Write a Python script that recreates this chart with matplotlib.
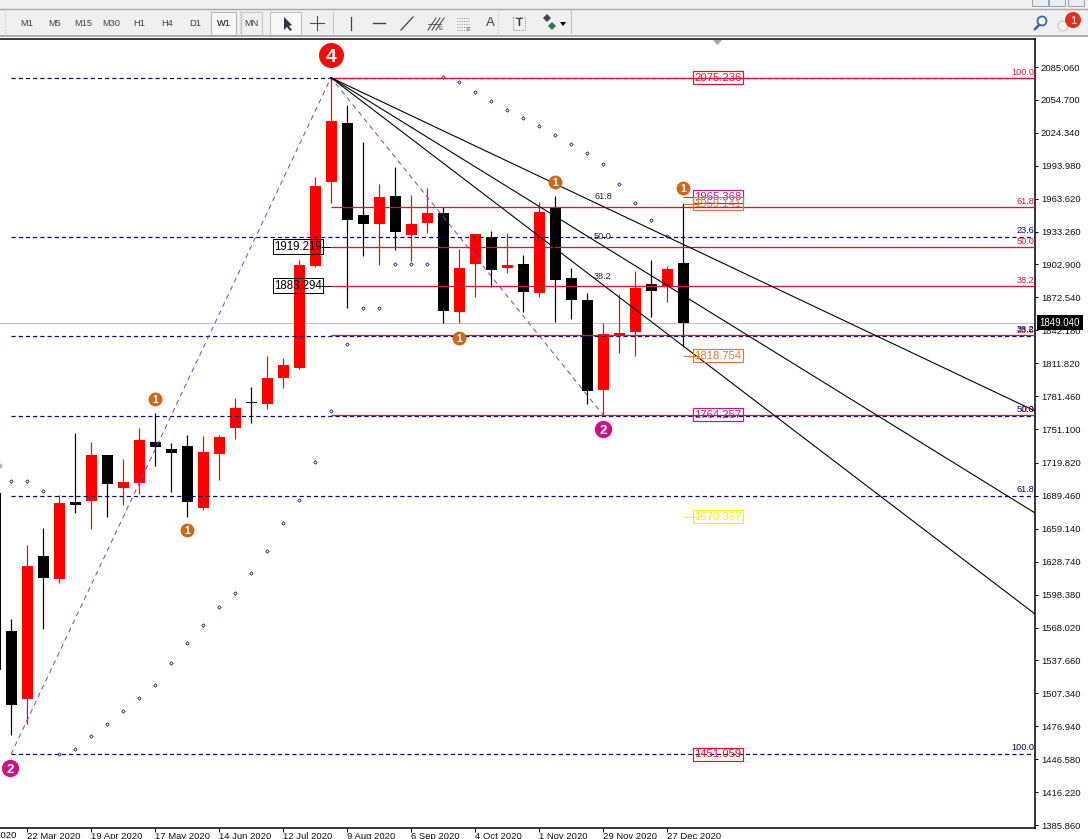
import matplotlib
matplotlib.use("Agg")
import matplotlib.pyplot as plt
from matplotlib.patches import Rectangle, Circle, Polygon

plt.rcParams['font.family'] = ['Liberation Sans', 'DejaVu Sans']

# ---- weekly candles, first bar index 0 ----
opens = [1692.1, 1564.8, 1502.1, 1634.0, 1612.8, 1683.8, 1684.7, 1727.2, 1696.7, 1701.3, 1739.2,
         1732.7, 1735.5, 1678.3, 1728.1, 1752.1, 1776.1, 1774.2, 1798.2, 1807.4, 1901.5, 1979.0,
         2033.4, 1948.5, 1940.2, 1966.1, 1930.1, 1941.2, 1950.4, 1859.1, 1903.3, 1928.3, 1899.7,
         1903.3, 1876.6, 1955.0, 1890.4, 1870.1, 1787.1, 1836.9, 1840.6, 1884.9, 1883.0, 1904.3]
closes = [1528.9, 1496.6, 1624.8, 1613.7, 1682.9, 1681.0, 1727.2, 1700.4, 1702.3, 1741.0, 1734.5,
          1729.0, 1683.8, 1729.9, 1743.8, 1770.5, 1775.1, 1798.2, 1810.2, 1902.4, 1975.3, 2035.2,
          1943.9, 1940.2, 1965.1, 1932.9, 1940.2, 1950.4, 1860.0, 1899.7, 1931.0, 1897.8, 1902.4,
          1877.5, 1951.3, 1888.6, 1870.1, 1786.2, 1838.8, 1839.7, 1881.2, 1878.4, 1898.7, 1848.9]
highs = [1692.1, 1575.9, 1644.2, 1659.8, 1690.3, 1747.5, 1739.2, 1727.2, 1723.5, 1752.1, 1765.9,
         1738.2, 1745.6, 1744.7, 1745.6, 1779.7, 1789.9, 1818.5, 1816.6, 1907.0, 1983.6, 2075.8,
         2050.0, 2015.9, 1977.1, 1992.8, 1967.0, 1973.4, 1955.9, 1917.2, 1931.0, 1933.8, 1931.9,
         1911.6, 1960.5, 1966.1, 1899.7, 1876.6, 1848.9, 1875.7, 1896.9, 1907.0, 1901.5, 1959.6]
lows = [1510.4, 1468.9, 1479.0, 1566.7, 1609.1, 1673.7, 1658.9, 1670.0, 1681.0, 1691.2, 1717.0,
        1693.0, 1670.0, 1676.4, 1704.1, 1741.9, 1756.7, 1769.6, 1789.0, 1806.5, 1900.6, 1959.6,
        1862.8, 1910.7, 1902.4, 1916.3, 1906.1, 1931.9, 1848.9, 1848.9, 1872.9, 1882.1, 1895.0,
        1859.1, 1872.9, 1849.8, 1852.6, 1774.2, 1764.1, 1821.3, 1818.5, 1854.5, 1868.3, 1826.8]

# ---- axis labels ----
date_idx = [2, 6, 10, 14, 18, 22, 26, 30, 34, 38, 42]
date_labels = ['22 Mar 2020', '19 Apr 2020', '17 May 2020', '14 Jun 2020', '12 Jul 2020', '9 Aug 2020',
               '6 Sep 2020', '4 Oct 2020', '1 Nov 2020', '29 Nov 2020', '27 Dec 2020']
cut_date_idx = -2
cut_date_label = '23 Feb 2020'
price_ticks = [2085.06, 2054.70, 2024.34, 1993.98, 1963.62, 1933.26, 1902.90, 1872.54, 1842.18, 1811.82,
               1781.46, 1751.10, 1719.82, 1689.46, 1659.14, 1628.74, 1598.38, 1568.02, 1537.66, 1507.34,
               1476.94, 1446.58, 1416.22, 1385.86]
last_price = 1849.04

# ---- fibonacci levels ----
swing_idx = 21          # bar of the 2075 high
start_idx = 1           # bar of the 1451 low
low_idx = 38            # bar of the 1764 low
top_price = 2075.236
bottom_price = 1451.059
low_price = 1764.257
red_levels = [2075.236, 1956.2, 1919.219, 1883.294, 1837.6, 1764.257]
red_names = ['100.0', '61.8', '50.0', '38.2', '23.6', '0.0']
blue_levels = [2075.236, 1927.9, 1836.8, 1763.1, 1689.5, 1451.059]
blue_names = ['', '23.6', '38.2', '50.0', '61.8', '100.0']

# ---- fan lines: price where each leaves the chart on the right ----
fan_names = ['61.8', '50.0', '38.2']
fan_end_prices = [1767.8, 1673.7, 1580.5]
fan_label_idx = 38.0
fan_label_prices = [1966.0, 1929.0, 1892.0]

# ---- dotted series ----
dots_idx = [1, 2, 3, 4, 5, 6, 7, 8, 9, 10, 11, 12, 13, 14, 15, 16, 17, 18, 19, 20, 21, 22, 23, 24, 25, 26, 27,
            28, 29, 30, 31, 32, 33, 34, 35, 36, 37, 38, 39, 40, 41, 42]
dots_price = [1703.2, 1703.2, 1693.9, 1451.4, 1456.0, 1468.0, 1479.0, 1491.0, 1503.0, 1515.0, 1535.3, 1553.7,
              1570.4, 1587.0, 1599.9, 1618.3, 1638.6, 1664.4, 1685.6, 1720.7, 1767.8, 1829.6, 1862.8, 1862.8,
              1903.3, 1903.3, 1903.3, 2075.8, 2071.2, 2062.0, 2053.7, 2045.4, 2038.0, 2030.6, 2022.3, 2014.0,
              2005.7, 1995.6, 1977.1, 1959.6, 1943.9, 1929.2]

# ---- price tags ----
tag_values = [2075.236, 1965.368, 1959.141, 1818.754, 1764.257, 1670.367, 1451.059]
tag_colors = ['#E0102F', '#C71585', '#E07830', '#E07830', '#C71585', '#FFF000', '#E0102F']
tag_linked = [False, True, True, True, False, True, False]
left_tags = [1919.219, 1883.294]

# ---- elliott wave marks ----
wave_idx = [21, 38, 0.94, 10, 12, 29, 35, 43]
wave_price = [2096.1, 1751.1, 1438.4, 1778.8, 1658.0, 1835.0, 1979.0, 1973.4]
wave_text = ['4', '2', '2', '1', '1', '1', '1', '1']
wave_color = ['#F20D0D', '#C71585', '#C71585', '#C8691E', '#C8691E', '#C8691E', '#C8691E', '#C8691E']
wave_size = [17, 11.5, 11.5, 9, 9, 9, 9, 9]

# ---- toolbar text ----
tf_names = ['M1', 'M5', 'M15', 'M30', 'H1', 'H4', 'D1', 'W1', 'MN']
tf_centers = [27, 55, 83, 111, 139, 167, 195, 224, 251]

PX = 0.72
RED = '#FF0000'
LINE_RED = '#E01030'
NAVY = '#000070'

fig = plt.figure(figsize=(10.88, 8.39), dpi=100, facecolor='white')
ax = fig.add_axes([0, 1 - 828 / 839, 1035 / 1088, (828 - 39) / 839])
ax.set_xlim(0.3125, 65.0)
ax.set_ylim(1383.1, 2110.9)
ax.spines['left'].set_visible(False)
for s in ('top', 'right', 'bottom'):
    ax.spines[s].set_linewidth(1.1)

# current price
ax.axhline(last_price, color='#C0C0C0', lw=PX, zorder=1)

# candles
bar_w = 11 / 16
for i, (o, c, h, l) in enumerate(zip(opens, closes, highs, lows)):
    col = RED if c > o else 'black'
    ax.vlines(i, l, h, color=col, lw=PX * 1.2, zorder=2)
    lo = min(o, c)
    ax.bar(i, abs(c - o), bottom=lo, width=bar_w, color=col, lw=0, zorder=3)

# dashed fibonacci
for v in blue_levels:
    ax.hlines(v, start_idx, 65, color=NAVY, lw=PX * 1.2, ls=(0, (3.5, 2.5)), zorder=4)
# red fibonacci
for v in red_levels:
    ax.hlines(v, swing_idx, 65, color=LINE_RED, lw=PX * 1.3, zorder=5)

# zigzag
ax.plot([start_idx, swing_idx, low_idx], [bottom_price, top_price, low_price], color='#8A3FC0',
        lw=PX, ls=(0, (5, 4)), zorder=4)

# fan
for end in fan_end_prices:
    ax.plot([swing_idx, 65], [top_price, end], color='black', lw=PX * 1.1, zorder=6)
for n, p in zip(fan_names, fan_label_prices):
    ax.text(fan_label_idx, p, n, fontsize=6.6, color='#202020', ha='center', va='center', zorder=7)

# dots
ax.scatter(dots_idx, dots_price, s=3, marker='D', facecolor='white', edgecolor=NAVY, linewidth=0.5, zorder=4)

# level labels on the right edge
for v, n in zip(red_levels, red_names):
    ax.annotate(n, (64.95, v), xytext=(0, 0.5), textcoords='offset points', ha='right', va='bottom',
                fontsize=6.6, color='#E01030', zorder=8)
for v, n in zip(blue_levels, blue_names):
    if n:
        ax.annotate(n, (64.95, v), xytext=(0, 1.5), textcoords='offset points', ha='right', va='bottom',
                    fontsize=6.6, color=NAVY, zorder=8)

# price tags
tag_x = 45.19
for v, col, linked in zip(tag_values, tag_colors, tag_linked):
    if linked:
        ax.hlines(v, 43.0, 44.0, color=col, lw=PX, zorder=7)
    ax.text(tag_x, v, f'{v:.3f}', fontsize=8.1, color=col, ha='center', va='center', zorder=8,
            bbox=dict(fc='none', ec=col, lw=0.85, pad=1.0))
for v in left_tags:
    ax.hlines(v, 20.4, swing_idx, color='black', lw=PX, zorder=6)
    ax.text(18.94, v, f'{v:.3f}', fontsize=8.3, color='black', ha='center', va='center', zorder=8,
            bbox=dict(fc='none', ec='black', lw=PX, pad=1.0))

# wave marks
for x, p, t, c, s in zip(wave_idx, wave_price, wave_text, wave_color, wave_size):
    ax.plot([x], [p], marker='o', ms=s, mfc=c, mec=c, clip_on=False, zorder=10, ls='none')
    ax.text(x, p, t, color='white', fontsize=s * 0.82, fontweight='bold', ha='center', va='center_baseline', zorder=11)

# axes ticks
ax.yaxis.tick_right()
ax.set_yticks(price_ticks)
ax.set_yticklabels([f'{v:.3f}' for v in price_ticks], fontsize=6.8, color='#101010')
ax.tick_params(axis='y', length=2.5, width=PX, pad=1.8)
ax.set_xticks(date_idx)
ax.set_xticklabels(date_labels, fontsize=6.8, ha='left', color='#101010')
ax.tick_params(axis='x', length=3, width=PX, pad=-0.2)
ax.annotate(cut_date_label, (cut_date_idx, 0), xycoords=ax.get_xaxis_transform(), xytext=(0, -2.0),
            textcoords='offset points', ha='left', va='top', fontsize=6.8, color='#101010', annotation_clip=False)

# current price tag
ax.text(1.0045, last_price, f'{last_price:.3f}', transform=ax.get_yaxis_transform(), color='white', fontsize=7,
        ha='left', va='center', zorder=12, bbox=dict(fc='black', ec='black', lw=0, pad=1.8))

# window chrome in pixel space
ui = fig.add_axes([0, 0, 1, 1], zorder=20)
ui.set_xlim(0, 1088)
ui.set_ylim(839, 0)
ui.axis('off')
ui.patch.set_alpha(0)
ui.add_patch(Rectangle((0, 0), 1088, 37, fc='#F0F0F0', ec='none'))
ui.plot([0, 1088], [8.5, 8.5], color='#A8A8A8', lw=1)
ui.plot([0, 1088], [35.5, 35.5], color='#A0A0A0', lw=1.2)
for x in (5, 240, 498):
    ui.plot([x, x], [11, 33], color='#C0C0C0', lw=0.8, ls=':')
for n, x in zip(tf_names, tf_centers):
    ui.text(x, 23.5, n, fontsize=6.7, color='#404040', ha='center', va='center')
ui.add_patch(Rectangle((211, 11.5), 25, 23, fc='#F8F8F8', ec='#B8B8B8', lw=0.8))
ui.text(224, 23.5, 'W1', fontsize=6.7, color='#404040', ha='center', va='center', zorder=5)
ui.add_patch(Rectangle((241, 11.5), 21, 23, fc='none', ec='#C8C8C8', lw=0.8))
ui.add_patch(Rectangle((270, 11.5), 31, 23, fc='#F8F8F8', ec='#C0C0C0', lw=0.8))
ui.add_patch(Polygon([(284, 17), (284, 30), (287, 27), (290, 31), (292, 30), (289, 26), (292, 25)], fc='#303848', ec='none'))
ui.plot([310, 324], [23, 23], color='#505050', lw=0.8)
ui.plot([317, 317], [16, 30], color='#505050', lw=0.8)
ui.plot([333, 333], [12, 33], color='#C8C8C8', lw=0.8)
ui.plot([351, 351], [17, 30], color='#404040', lw=0.9)
ui.plot([373, 385], [23, 23], color='#404040', lw=1)
ui.plot([401, 413], [30, 17], color='#404040', lw=0.9)
for k in range(3):
    ui.plot([428 + k * 4, 436 + k * 4], [30, 18], color='#505050', lw=0.8)
ui.plot([428, 441], [24, 24], color='#505050', lw=0.6)
ui.text(441, 29, 'E', fontsize=4.6, color='#404040', ha='center', va='center')
for yy in (18, 21, 24, 27, 30):
    ui.plot([457, 469], [yy, yy], color='#707070', lw=0.6, ls=':')
ui.text(468, 29.5, 'F', fontsize=4.6, color='#404040', ha='center', va='center')
ui.text(490.5, 23.5, 'A', fontsize=9.5, color='#404040', ha='center', va='center')
ui.add_patch(Rectangle((513, 17), 12, 13, fc='none', ec='#606060', lw=0.6, ls=':'))
ui.text(519, 23.5, 'T', fontsize=8, fontweight='bold', color='#404040', ha='center', va='center')
ui.add_patch(Polygon([(543, 18), (547, 22), (551, 18), (547, 14)], fc='#404858', ec='none'))
ui.add_patch(Polygon([(548, 26), (552, 30), (556, 26), (552, 22)], fc='#2A7A5A', ec='none'))
ui.add_patch(Polygon([(560, 22), (566, 22), (563, 26)], fc='black', ec='none'))
ui.plot([571, 571], [11, 33], color='#C0C0C0', lw=0.8)
# window buttons
for x in (1033, 1050, 1069):
    ui.add_patch(Rectangle((x - 1, -2), 16, 8, fc='#E8EDF4', ec='#98A0A8', lw=0.7))
# search + alert
ui.add_patch(Circle((1042, 21), 4.5, fc='#FFFFFF', ec='#3565B0', lw=1.3))
ui.plot([1039, 1035], [25, 29], color='#3565B0', lw=1.8)
ui.add_patch(Circle((1063, 26), 5, fc='#F4F4F4', ec='#C8C8C8', lw=0.8))
ui.add_patch(Circle((1073, 20), 8, fc='#E03020', ec='none'))
ui.text(1073, 20.5, '1', fontsize=8, color='white', ha='center', va='center')
# shift marker
ui.add_patch(Polygon([(713, 40), (722, 40), (717.5, 45)], fc='#A8A8A8', ec='none'))
# faint mark cut by the left edge
ui.add_patch(Circle((0, 466), 2.5, fc='#B8B8B8', ec='none'))

fig.savefig('out.png', dpi=100)
